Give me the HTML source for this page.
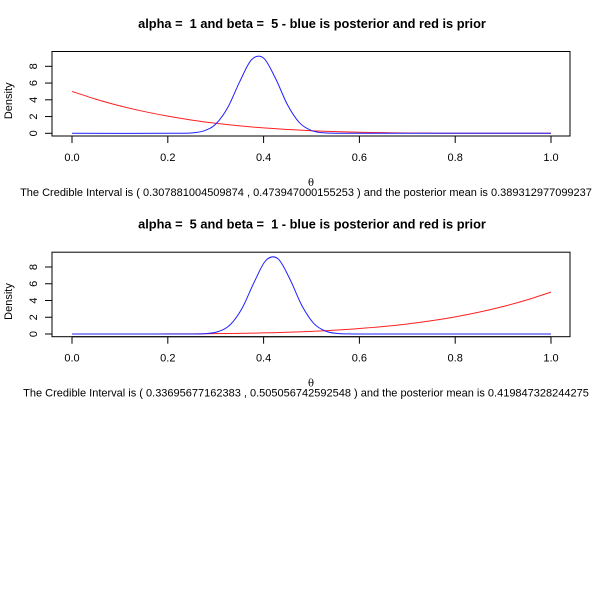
<!DOCTYPE html>
<html><head><meta charset="utf-8"><style>
html,body{margin:0;padding:0;background:#fff;}
svg{display:block;font-family:"Liberation Sans",Arial,sans-serif;}
text{white-space:pre;}
</style></head><body>
<svg id="chart" width="597" height="603" viewBox="0 0 597 603"></svg>
<script>
// Shared theta grids
const priorTheta = [0,0.05,0.1,0.15,0.2,0.25,0.3,0.35,0.4,0.45,0.5,0.55,0.6,0.65,0.7,0.75,0.8,0.85,0.9,0.95,1];
// Panel 1 (alpha=1, beta=5)
const prior1 = [5,4.07,3.28,2.61,2.05,1.58,1.2,0.89,0.65,0.46,0.31,0.205,0.13,0.075,0.04,0.02,0.008,0.0025,0.0005,0,0];
const post1Theta = [0,0.2,0.25,0.275,0.3,0.325,0.35,0.375,0.4,0.425,0.45,0.475,0.5,0.525,0.55,0.6,1];
const post1 = [0,0,0.05,0.28,1.09,3.06,6.15,8.8,8.98,6.54,3.39,1.25,0.33,0.06,0.01,0,0];
// Panel 2 (alpha=5, beta=1)
const prior2 = [0,0,0,0.0025,0.008,0.02,0.04,0.075,0.13,0.205,0.31,0.46,0.65,0.89,1.2,1.58,2.05,2.61,3.28,4.07,5];
const post2Theta = [0,0.23,0.28,0.305,0.33,0.355,0.38,0.405,0.43,0.455,0.48,0.505,0.53,0.555,0.58,0.63,1];
const post2 = [0,0,0.05,0.28,1.09,3.06,6.15,8.8,8.98,6.54,3.39,1.25,0.33,0.06,0.01,0,0];
const xTicks = [0,0.2,0.4,0.6,0.8,1.0];
const xTickLabels = ["0.0","0.2","0.4","0.6","0.8","1.0"];
const yTicks = [0,2,4,6,8];
const titles = ["alpha =  1 and beta =  5 - blue is posterior and red is prior","alpha =  5 and beta =  1 - blue is posterior and red is prior"];
const ciTexts = ["The Credible Interval is ( 0.307881004509874 , 0.473947000155253 ) and the posterior mean is 0.389312977099237",
"The Credible Interval is ( 0.33695677162383 , 0.505056742592548 ) and the posterior mean is 0.419847328244275"];

const NS="http://www.w3.org/2000/svg";
const svg=document.getElementById('chart');
function mk(tag,attrs,parent,text){const e=document.createElementNS(NS,tag);for(const k in attrs)e.setAttribute(k,attrs[k]);if(text!==undefined)e.textContent=text;(parent||svg).appendChild(e);return e;}
function smooth(pts){let d='M'+pts[0][0].toFixed(2)+','+pts[0][1].toFixed(2);for(let i=0;i<pts.length-1;i++){const p0=pts[Math.max(0,i-1)],p1=pts[i],p2=pts[i+1],p3=pts[Math.min(pts.length-1,i+2)];const c1x=p1[0]+(p2[0]-p0[0])/6,c1y=p1[1]+(p2[1]-p0[1])/6,c2x=p2[0]-(p3[0]-p1[0])/6,c2y=p2[1]-(p3[1]-p1[1])/6;d+=' C'+c1x.toFixed(2)+','+c1y.toFixed(2)+' '+c2x.toFixed(2)+','+c2y.toFixed(2)+' '+p2[0].toFixed(2)+','+p2[1].toFixed(2);}return d;}

function panel(off,idx,priorVals,postTheta,postVals){
  const g=mk('g',{});
  
  
  const xs=v=>72+v*479, ys=v=>133.3+off-v*8.375;
  const t=mk('text',{x:312,y:28+off,'text-anchor':'middle','font-size':12.8,'font-weight':'bold'},g,titles[idx]);
  
  
  const box=mk('rect',{x:52,y:51.5+off,width:518,height:84.5,fill:'none',stroke:'#000','stroke-width':1},g);
  
  
  const xa=mk('g',{},g);
  
  
  mk('line',{x1:xs(0),x2:xs(1),y1:136+off,y2:136+off,stroke:'#000'},xa);
  xTicks.forEach((v,i)=>{mk('line',{x1:xs(v),x2:xs(v),y1:136+off,y2:143+off,stroke:'#000'},xa);
    const l=mk('text',{x:xs(v),y:161+off,'text-anchor':'middle','font-size':11},xa,xTickLabels[i]);
    
    });
  const xl=mk('text',{x:311,y:186+off,'text-anchor':'middle','font-size':10,'font-family':'"DejaVu Serif",serif'},g,'θ');
  
  
  const ya=mk('g',{},g);
  
  
  mk('line',{x1:52,x2:52,y1:ys(0),y2:ys(8),stroke:'#000'},ya);
  yTicks.forEach(v=>{mk('line',{x1:45,x2:52,y1:ys(v),y2:ys(v),stroke:'#000'},ya);
    const l=mk('text',{x:0,y:0,'text-anchor':'middle','font-size':11,transform:`translate(37,${ys(v)}) rotate(-90)`},ya,String(v));
    
    });
  const yl=mk('text',{x:0,y:0,'text-anchor':'middle','font-size':11,transform:`translate(12,${ys(4)+1}) rotate(-90)`},g,'Density');
  
  
  const pr=mk('path',{d:smooth(priorTheta.map((v,i)=>[xs(v),ys(priorVals[i])])),fill:'none',stroke:'#ff2020','stroke-width':1},g);
  
  
  const po=mk('path',{d:smooth(postTheta.map((v,i)=>[xs(v),ys(postVals[i])])),fill:'none',stroke:'#2020ff','stroke-width':1},g);
  
  
  const ci=mk('text',{x:306,y:196+off,'text-anchor':'middle','font-size':11},g,ciTexts[idx]);
  
  
}
panel(0,0,prior1,post1Theta,post1);
panel(200.7,1,prior2,post2Theta,post2);
</script>
</body></html>
